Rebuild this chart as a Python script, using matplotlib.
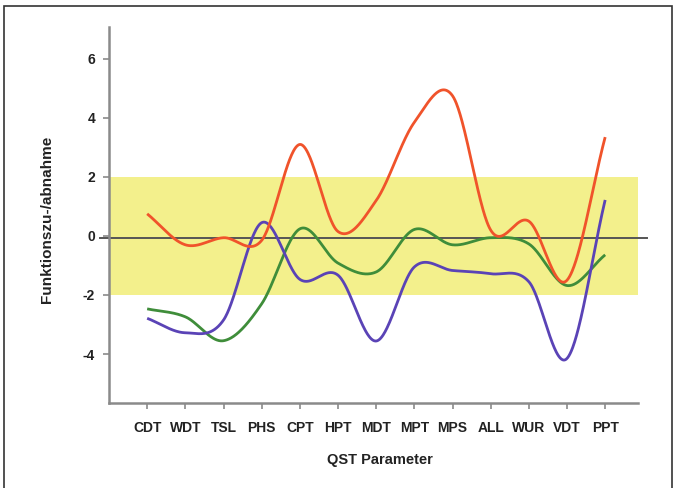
import numpy as np
import matplotlib
matplotlib.use("Agg")
import matplotlib.pyplot as plt
from matplotlib.patches import Rectangle

# ---- data ----
categories = ["CDT", "WDT", "TSL", "PHS", "CPT", "HPT", "MDT", "MPT", "MPS", "ALL", "WUR", "VDT", "PPT"]
red_vals = [0.75, -0.3, -0.06, -0.15, 3.1, 0.15, 1.2, 3.85, 4.75, 0.2, 0.5, -1.5, 3.35]
green_vals = [-2.47, -2.74, -3.55, -2.3, 0.24, -0.92, -1.22, 0.22, -0.3, -0.06, -0.27, -1.68, -0.64]
blue_vals = [-2.79, -3.28, -2.85, 0.45, -1.47, -1.33, -3.56, -1.05, -1.17, -1.28, -1.55, -4.15, 1.22]
yticks = [-4, -2, 0, 2, 4, 6]
band = (-2, 2)

FONT = ["Liberation Sans", "DejaVu Sans"]


def smooth_curve(y, per=60):
    """Catmull-Rom (Hermite) smoothed line through equally spaced points."""
    y = np.asarray(y, float)
    n = len(y)
    m = np.zeros(n)
    m[1:-1] = (y[2:] - y[:-2]) / 2
    m[0] = y[1] - y[0]
    m[-1] = y[-1] - y[-2]
    xs_all, ys_all = [], []
    t = np.linspace(0, 1, per, endpoint=False)
    h00 = 2 * t ** 3 - 3 * t ** 2 + 1
    h10 = t ** 3 - 2 * t ** 2 + t
    h01 = -2 * t ** 3 + 3 * t ** 2
    h11 = t ** 3 - t ** 2
    for i in range(n - 1):
        xs_all.append(i + t)
        ys_all.append(h00 * y[i] + h10 * m[i] + h01 * y[i + 1] + h11 * m[i + 1])
    xs_all.append(np.array([n - 1.0]))
    ys_all.append(np.array([y[-1]]))
    return np.concatenate(xs_all), np.concatenate(ys_all)


W, H = 677, 488
fig = plt.figure(figsize=(W / 100, H / 100), dpi=100)
L, R, T, B = 109, 638, 27, 403
ax = fig.add_axes([L / W, 1 - B / H, (R - L) / W, (B - T) / H])

xc = np.arange(len(categories))

ax.axhspan(band[0], band[1], color="#f3f08c", lw=0, zorder=1)
ax.axhline(-0.07, xmin=-0.017, xmax=1.017, color="#555555", lw=1.4, clip_on=False, zorder=2)

for vals, col in [(green_vals, "#3f8d3a"), (blue_vals, "#5a43b6"), (red_vals, "#f0532b")]:
    sx, sy = smooth_curve(vals)
    ax.plot(sx, sy, color=col, lw=2.0, zorder=3, solid_capstyle="butt")

ax.set_xlim(-1.0, 12.86)
ax.set_ylim(-5.66, 7.08)
ax.set_xticks(xc)
ax.set_xticklabels(categories)
ax.set_yticks(yticks)
ax.set_yticklabels([str(v) for v in yticks])

for s in ["top", "right"]:
    ax.spines[s].set_visible(False)
for s in ["left", "bottom"]:
    ax.spines[s].set_color("#8a8a8a")
    ax.spines[s].set_linewidth(1.8)

ax.tick_params(axis="x", length=4, width=1.2, color="#8a8a8a", pad=9)
ax.tick_params(axis="y", length=4, width=1.2, color="#8a8a8a", pad=6)
for lab in ax.get_xticklabels() + ax.get_yticklabels():
    lab.set_fontfamily(FONT)
    lab.set_fontweight("bold")
    lab.set_fontsize(10)
    lab.set_color("#222222")

fig.text(380 / W, 1 - 460 / H, "QST Parameter", ha="center", va="center",
         family=FONT, weight="bold", fontsize=10.5, color="#222222")
fig.text(47 / W, 1 - 219 / H, "Funktionszu-/abnahme", ha="center", va="center",
         rotation=90, family=FONT, weight="bold", fontsize=11, color="#222222")

fig.add_artist(Rectangle((4 / W, -0.02), (672 - 4) / W, 1.02 - 6 / H,
                         transform=fig.transFigure, fill=False,
                         edgecolor="#333333", lw=1.2))

fig.savefig("out.png", dpi=100)
